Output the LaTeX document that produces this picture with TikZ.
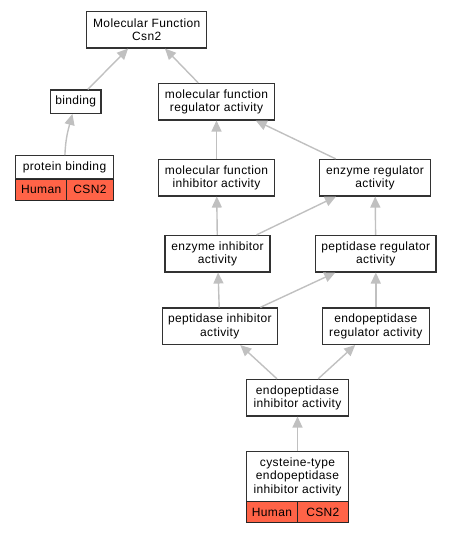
\documentclass[tikz,border=0pt]{standalone}
\usepackage{fontspec}
\setmainfont{Liberation Sans}[LetterSpace=3]
\usetikzlibrary{arrows.meta}
\definecolor{edgegray}{RGB}{192,192,192}
\definecolor{boxline}{RGB}{50,50,50}
\definecolor{tomato}{RGB}{255,99,71}

\begin{document}
\begin{tikzpicture}[x=1pt,y=-1pt,
        font=\fontsize{12}{13.6}\selectfont,
        term/.style={draw=boxline,line width=1.2pt,fill=white,align=center,inner sep=0pt,minimum height=36.5pt},
        cell/.style={draw=black!85,line width=1pt,fill=tomato,inner sep=0pt,minimum height=21pt},
        isa/.style={draw=edgegray,line width=1.4pt,-{Triangle[length=11pt,width=10pt]}}]
            \useasboundingbox (0,0) rectangle (452,533);
            \node[term,minimum width=120pt] (MF) at (146.7,29.7) {Molecular Function\\Csn2};
            \node[term,minimum width=50.7pt,minimum height=23.3pt] (B) at (75.7,101.7) {binding};
            \node[term,minimum width=116.4pt] (MFR) at (216.5,101.7) {molecular function\\regulator activity};
            \node[term,minimum width=97.6pt,minimum height=23.3pt] (PB) at (64.5,167.3) {protein binding};
            \node[cell,minimum width=51pt] (PBH) at (41.2,189.5) {Human};
            \node[cell,minimum width=46.6pt] (PBC) at (90,189.5) {CSN2};
            \node[term,minimum width=116.7pt] (MFI) at (216.5,177.7) {molecular function\\inhibitor activity};
            \node[term,minimum width=111.4pt] (ER) at (375,177.7) {enzyme regulator\\activity};
            \node[term,minimum width=105pt] (EI) at (217.5,253.7) {enzyme inhibitor\\activity};
            \node[term,minimum width=120.3pt] (PR) at (375.8,253.7) {peptidase regulator\\activity};
            \node[term,minimum width=115pt] (PI) at (219.8,326.2) {peptidase inhibitor\\activity};
            \node[term,minimum width=107pt] (EPR) at (375.8,326.2) {endopeptidase\\regulator activity};
            \node[term,minimum width=101.6pt] (EPI) at (297.5,397.7) {endopeptidase\\inhibitor activity};
            \node[term,minimum width=101.6pt,minimum height=50pt] (CEPI) at (297.5,476.7) {cysteine-type\\endopeptidase\\inhibitor activity};
            \node[cell,minimum width=50.6pt] (CH) at (272,512.2) {Human};
            \node[cell,minimum width=51pt] (CC) at (322.8,512.2) {CSN2};
            \draw[isa] (B) -- (MF);
            \draw[isa] (MFR) -- (MF);
            \draw[isa] (PB) to[out=88,in=-105] (B);
            \draw[isa] (MFI) -- (MFR);
            \draw[isa] (ER) -- (MFR);
            \draw[isa] (EI) -- (MFI);
            \draw[isa] (EI) -- (ER);
            \draw[isa] (PR) -- (ER);
            \draw[isa] (PI) -- (EI);
            \draw[isa] (PI) -- (PR);
            \draw[isa] (EPR) -- (PR);
            \draw[isa] (EPI) -- (PI);
            \draw[isa] (EPI) -- (EPR);
            \draw[isa] (CEPI) -- (EPI);
        \end{tikzpicture}
\end{document}
